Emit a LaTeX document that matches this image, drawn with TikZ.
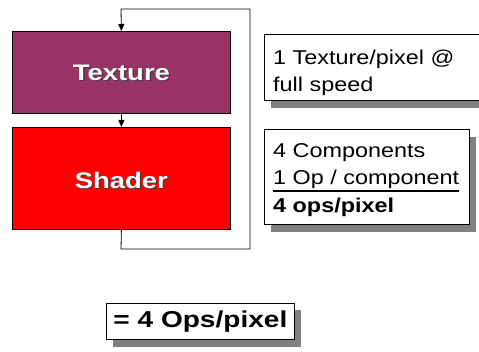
\documentclass[tikz,border=0pt]{standalone}
\usepackage{fontspec}
\setmainfont{Liberation Sans}
\newfontfamily\widefont[FakeStretch=1.22]{Liberation Sans}
\newfontfamily\notefont[FakeStretch=1.17]{Liberation Sans}
\usetikzlibrary{arrows.meta,shadows}
\definecolor{texcol}{HTML}{993366}
\definecolor{shadecol}{HTML}{FF0000}
\definecolor{boxshadow}{HTML}{808080}
\begin{document}
\begin{tikzpicture}[x=1pt,y=-1pt,
  block/.style={draw=black, line width=0.8pt, minimum width=218pt,
    anchor=north west, inner sep=0pt},
  blocklabel/.style={font=\widefont\bfseries\fontsize{22.5}{26}\selectfont,
    inner sep=0pt},
  note/.style={draw=black, fill=white, line width=0.8pt, anchor=north west,
    inner sep=0pt,
    drop shadow={shadow xshift=7pt, shadow yshift=-7.5pt, fill=boxshadow, opacity=1}},
  noteline/.style={font=\notefont\fontsize{20}{27}\selectfont,
    anchor=base west, inner sep=0pt},
  arr/.style={-{Triangle[length=7pt,width=6pt]}, line width=0.8pt}]
\useasboundingbox (0,0) rectangle (479,352);

% pipeline blocks
\node[block, fill=texcol, minimum height=82pt] (tex) at (12,31) {};
\node[block, fill=shadecol, minimum height=102pt] (shd) at (12,127) {};

% white labels with a dark drop shadow
\node[blocklabel, text=black!75, xshift=1.5pt, yshift=-1.5pt] at (tex.center) {Texture};
\node[blocklabel, text=white] (texlbl) at (tex.center) {Texture};
\node[blocklabel, text=black!75, xshift=1.5pt, yshift=-3.5pt] at (shd.center) {Shader};
\node[blocklabel, text=white, yshift=-2pt] (shdlbl) at (shd.center) {Shader};

% feedback loop from shader back into texture
\coordinate (c1) at (121,249);
\coordinate (c2) at (250,249);
\coordinate (c3) at (250,9);
\coordinate (c4) at (121,9);
\draw[arr] (shd.south) -- (c1) -- (c2) -- (c3) -- (c4) -- (tex.north);
\draw[arr] (tex.south) -- (shd.north);

% annotation boxes
\node[note, minimum width=222pt, minimum height=66pt] (n1) at (264,34) {};
\node[noteline] (l1) at (273,65) {1 Texture/pixel @};
\node[noteline] (l2) at (273,92) {full speed};

\node[note, minimum width=205pt, minimum height=95pt] (n2) at (264,129) {};
\node[noteline] (l3) at (273,157.5) {4 Components};
\node[noteline] (l4) at (273,185) {1 Op / component};
\node[noteline, font=\notefont\bfseries\fontsize{20}{27}\selectfont] (l5) at (273,212.5) {4 ops/pixel};
\draw[line width=2pt] ([yshift=-1.6pt]l4.south west) -- ([yshift=-1.6pt]l4.south east);

% result box
\node[note, minimum width=188pt, minimum height=36pt,
  drop shadow={shadow xshift=6.5pt, shadow yshift=-6.5pt, fill=boxshadow, opacity=1}] (res) at (106,303) {};
\node[font=\widefont\bfseries\fontsize{23}{28}\selectfont, inner sep=0pt,
  yshift=-0.5pt] (reslbl) at (res.center) {= 4 Ops/pixel};
\end{tikzpicture}
\end{document}
